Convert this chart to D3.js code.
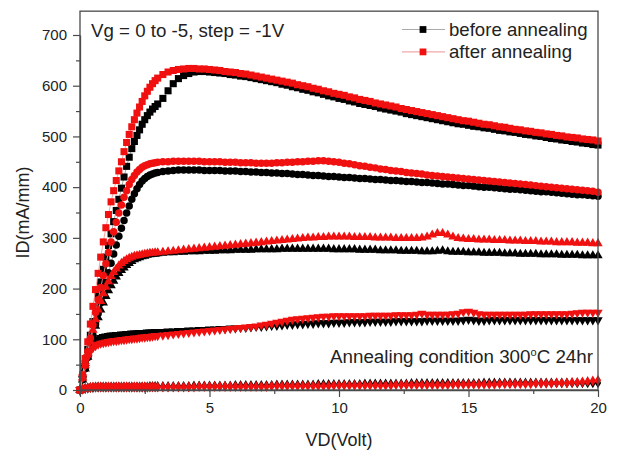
<!DOCTYPE html>
<html><head><meta charset="utf-8">
<script src="https://cdn.jsdelivr.net/npm/d3@7"></script>
<style>
body{margin:0;background:#fff}
svg{display:block}
text{font-family:"Liberation Sans",Arial,Helvetica,sans-serif;fill:#222}
</style>
</head><body>
<svg id="c" width="620" height="452"></svg>
<script>
// ---------------- DATA ----------------
const VD = [0,0.1,0.2,0.3,0.4,0.5,0.6,0.7,0.8,0.9,1,1.1,1.2,1.3,1.4,1.5,1.6,1.7,1.8,1.9,2,2.1,2.2,2.3,2.4,2.5,2.6,2.7,2.8,2.9,3,
3.2,3.4,3.6,3.8,4,4.2,4.4,4.6,4.8,5,
5.2,5.4,5.6,5.8,6,6.2,6.4,6.6,6.8,7,
7.2,7.4,7.6,7.8,8,8.2,8.4,8.6,8.8,9,
9.2,9.4,9.6,9.8,10,10.2,10.4,10.6,10.8,11,
11.2,11.4,11.6,11.8,12,12.2,12.4,12.6,12.8,13,
13.2,13.4,13.6,13.8,14,14.2,14.4,14.6,14.8,15,
15.2,15.4,15.6,15.8,16,16.2,16.4,16.6,16.8,17,
17.2,17.4,17.6,17.8,18,18.2,18.4,18.6,18.8,19,
19.2,19.4,19.6,19.8,20];

const gateVoltages = ["0","-1","-2","-3","-4"];
const conditions = ["before annealing","after annealing"];

// Vg = 0 V (squares)
const before_Vg0 = [0,25,52,80,108,135,162,188,213,238,262,285,308,332,354,376,398,420,441,459,476,490,502,513,524,533,541,548,554,559,564,
575,590,604,614,620,624,627,628,628,627,
626,625,624,622,621,619,618,616,614,612,
610,608,606,603,601,598,596,593,591,588,
586,583,580,578,575,573,570,568,565,563,
561,559,556,554,552,550,548,545,543,541,
539,537,535,533,531,529,527,525,524,522,
520,519,517,516,514,512,511,509,508,506,
504,503,501,500,498,496,495,493,492,490,
489,487,486,484,483];
const after_Vg0 = [0,30,62,95,130,165,198,230,262,292,320,346,371,393,413,432,450,470,488,504,519,533,546,558,569,580,589,597,604,610,615,
622,627,630,632,633,634,634,633,633,632,
631,630,628,627,626,624,623,621,619,617,
615,613,611,609,607,605,602,600,598,595,
593,590,588,585,583,581,578,576,573,571,
569,566,564,562,560,558,555,553,551,549,
547,545,543,541,539,537,535,533,531,530,
528,526,524,523,521,519,518,516,514,513,
511,510,508,507,505,504,502,501,499,498,
497,495,494,493,491];

// Vg = -1 V (circles)
const before_Vg1 = [0,20,42,64,86,108,130,151,172,192,212,231,250,268,286,303,319,334,349,363,376,387,397,405,412,417,421,424,426,428,429,
431,432,433,434,434,434,434,434,433,433,
433,433,432,432,432,431,431,430,430,429,
429,428,428,427,427,426,425,425,424,423,
423,422,421,421,420,419,419,418,417,417,
416,415,415,414,413,413,412,411,411,410,
409,409,408,407,406,406,405,404,403,403,
402,401,400,400,399,398,397,396,396,395,
394,393,392,391,391,390,389,388,387,386,
385,385,384,383,382];
const after_Vg1 = [0,24,50,76,102,128,153,178,202,226,249,271,292,312,331,349,365,380,393,405,415,423,430,435,439,442,444,446,447,448,449,
450,450,451,451,451,451,451,451,450,450,
450,450,449,449,449,448,448,448,447,447,
447,447,448,448,449,449,450,450,451,451,
452,452,451,450,449,447,446,444,442,441,
439,438,436,435,433,432,431,429,428,427,
426,424,423,422,421,420,419,418,417,416,
415,414,413,412,411,410,409,408,407,406,
405,404,403,402,401,400,399,398,397,396,
395,394,393,392,390];

// Vg = -2 V (up triangles)
const before_Vg2 = [0,20,42,65,87,107,126,143,158,172,185,196,206,215,223,230,236,241,246,250,254,257,259,261,263,264,266,267,268,268,269,
270,271,271,272,272,273,273,273,274,274,
274,275,275,275,276,276,276,276,277,277,
277,277,277,278,278,278,278,278,278,278,
278,278,278,277,277,277,277,277,276,276,
276,276,275,275,275,275,274,274,274,274,
273,273,273,274,275,273,272,272,272,271,
271,271,270,270,270,270,269,269,269,268,
268,268,268,267,267,267,267,266,266,266,
266,265,265,265,265];
const after_Vg2 = [0,24,48,72,96,118,139,158,175,190,203,214,224,232,239,245,250,254,257,260,262,264,265,266,267,268,269,270,270,271,271,
272,273,274,275,276,277,278,279,280,281,
282,283,284,285,286,287,288,289,290,291,
292,293,294,295,296,297,298,299,300,300,
301,301,302,302,302,302,302,301,301,301,
301,300,300,300,300,299,299,299,299,299,
300,302,306,309,309,306,302,299,298,297,
297,296,296,296,295,295,295,294,294,294,
293,293,293,292,292,292,291,291,291,291,
290,290,290,289,289];

// Vg = -3 V (down triangles)
const before_Vg3 = [0,22,44,63,78,89,96,100,103,105,106,107,108,108,109,109,110,110,111,111,112,112,112,113,113,113,114,114,114,115,115,
115,116,116,117,117,118,118,119,119,120,
120,121,121,122,122,123,123,124,125,125,
126,127,127,128,129,129,130,130,131,131,
132,132,132,133,133,133,134,134,134,134,
135,135,135,135,135,136,136,136,136,136,
136,137,137,137,137,137,137,137,138,139,
138,137,137,138,138,138,138,138,138,138,
138,138,138,138,138,138,138,138,138,138,
138,138,138,138,138];
const after_Vg3 = [0,25,48,65,76,83,87,90,92,93,94,95,96,97,97,98,99,99,100,101,101,102,102,103,104,104,105,105,106,107,107,
108,109,110,111,112,113,114,115,116,117,
118,119,120,121,122,123,124,125,126,128,
129,131,133,135,137,139,140,141,142,143,
144,145,145,146,146,146,146,146,146,146,
147,147,147,147,147,148,148,148,148,149,
151,149,149,149,149,149,150,151,154,155,
153,150,149,149,149,149,149,149,149,149,
149,150,150,150,150,150,150,150,150,151,
152,153,153,153,153];

// Vg = -4 V (diamonds)
const before_Vg4 = [0,2,3,4,5,5,6,6,6,6,6,6,6,6,6,6,6,6,6,6,6,6,6,6,6,6,6,7,7,7,7,
7,7,7,7,7,7,8,8,8,8,
8,8,8,8,9,9,9,9,9,9,
9,9,10,10,10,10,10,10,10,10,
11,11,11,11,11,11,11,11,11,12,
12,12,12,12,12,12,12,12,13,13,
13,13,13,13,13,13,13,13,13,13,
13,13,14,14,14,14,14,14,14,14,
14,14,14,14,14,14,14,14,14,14,
14,14,14,14,14];
const after_Vg4 = [0,2,3,4,5,6,6,6,6,6,6,6,6,6,6,6,6,6,6,6,6,6,6,6,6,6,6,6,6,6,6,
6,6,6,6,6,6,6,7,7,7,
7,7,7,7,7,7,7,7,7,7,
7,8,8,8,8,8,8,8,8,8,
8,8,8,9,9,9,9,9,9,9,
9,9,9,9,9,10,10,10,10,10,
10,10,10,10,10,10,11,11,11,11,
11,11,11,11,11,12,12,12,12,12,
12,12,13,13,13,13,14,14,14,15,
15,16,17,18,19];

const yTickValues = [0,100,200,300,400,500,600,700];
const yMinorValues = [50,150,250,350,450,550,650];
const xTickValues = [0,5,10,15,20];
const xMinorValues = [2.5,7.5,12.5,17.5];

// ---------------- CHART ----------------
const series = [
  {vg:"0", cond:0, vals:before_Vg0, sym:"square"},
  {vg:"-1",cond:0, vals:before_Vg1, sym:"circle"},
  {vg:"-2",cond:0, vals:before_Vg2, sym:"up"},
  {vg:"-3",cond:0, vals:before_Vg3, sym:"down"},
  {vg:"-4",cond:0, vals:before_Vg4, sym:"diamond"},
  {vg:"0", cond:1, vals:after_Vg0, sym:"square"},
  {vg:"-1",cond:1, vals:after_Vg1, sym:"circle"},
  {vg:"-2",cond:1, vals:after_Vg2, sym:"up"},
  {vg:"-3",cond:1, vals:after_Vg3, sym:"down"},
  {vg:"-4",cond:1, vals:after_Vg4, sym:"diamond"}
];
const markColor = ["#000000","#f01010"];
const lineColor = ["#9a9a9a","#f29a9a"];

const svg = d3.select("#c");
const x = d3.scaleLinear().domain([0,20]).range([80,598]);
const y = d3.scaleLinear().domain([0,700]).range([390,35]);
const yTopVal = 747;

function symPath(kind){
  if(kind==="square") return d3.symbol(d3.symbolSquare, 50)();
  if(kind==="circle") return d3.symbol(d3.symbolCircle, 44)();
  if(kind==="diamond") return d3.symbol(d3.symbolDiamond, 34)();
  return d3.symbol(d3.symbolTriangle, 38)();
}

const plot = svg.append("g");
const line = d3.line().x(d=>x(d[0])).y(d=>y(d[1]));

[0,1].forEach(c=>{
  const ss = series.filter(s=>s.cond===c);
  ss.forEach(s=>{
    const pts = VD.map((v,i)=>[v,s.vals[i]]);
    plot.append("path").attr("d",line(pts)).attr("fill","none")
      .attr("stroke",lineColor[c]).attr("stroke-width",0.9);
  });
  ss.forEach(s=>{
    const pts = VD.map((v,i)=>[v,s.vals[i]]);
    const d = symPath(s.sym);
    plot.append("g").selectAll("path").data(pts).join("path")
      .attr("d",d)
      .attr("transform",p=>`translate(${x(p[0])},${y(p[1])})`+(s.sym==="down"?" rotate(180)":""))
      .attr("fill",markColor[c]);
  });
});

// frame
const axCol = "#4a4a4a";
svg.append("rect").attr("x",x(0)).attr("y",y(yTopVal))
  .attr("width",x(20)-x(0)).attr("height",y(0)-y(yTopVal))
  .attr("fill","none").attr("stroke",axCol).attr("stroke-width",1.3);

// axes
function styleAxis(g){
  g.selectAll(".domain").attr("stroke",axCol).attr("stroke-width",1.3);
  g.selectAll(".tick line").attr("stroke",axCol).attr("stroke-width",1.2);
  g.selectAll(".tick text").attr("fill","#333").style("font-size","15px")
    .style("font-family",'"Liberation Sans",Arial,sans-serif');
}
const yAxis = svg.append("g").attr("transform",`translate(${x(0)},0)`)
  .call(d3.axisLeft(y).tickValues(yTickValues).tickSize(7).tickPadding(6).tickSizeOuter(0));
styleAxis(yAxis);
const yMinor = svg.append("g").attr("transform",`translate(${x(0)},0)`)
  .call(d3.axisLeft(y).tickValues(yMinorValues).tickSize(4).tickFormat("").tickSizeOuter(0));
yMinor.select(".domain").remove(); styleAxis(yMinor);

const xAxis = svg.append("g").attr("transform",`translate(0,${y(0)})`)
  .call(d3.axisBottom(x).tickValues(xTickValues).tickSize(7).tickPadding(5).tickSizeOuter(0));
styleAxis(xAxis);
const xMinor = svg.append("g").attr("transform",`translate(0,${y(0)})`)
  .call(d3.axisBottom(x).tickValues(xMinorValues).tickSize(4).tickFormat("").tickSizeOuter(0));
xMinor.select(".domain").remove(); styleAxis(xMinor);

// axis titles
svg.append("text").attr("x",(x(0)+x(20))/2).attr("y",446).attr("text-anchor","middle")
  .style("font-size","18px").text("VD(Volt)");
svg.append("text").attr("transform",`translate(29,${(y(0)+y(yTopVal))/2+12}) rotate(-90)`)
  .attr("text-anchor","middle").style("font-size","18px").text("ID(mA/mm)");

// annotations
svg.append("text").attr("x",91).attr("y",37).style("font-size","18.7px")
  .text("Vg = 0 to -5, step = -1V");
const ann = svg.append("text").attr("x",593).attr("y",363).attr("text-anchor","end").style("font-size","18.8px");
ann.append("tspan").text("Annealing condition 300");
ann.append("tspan").attr("dy",-7).style("font-size","11px").text("o");
ann.append("tspan").attr("dy",7).text("C 24hr");

// legend
conditions.forEach((name,c)=>{
  const ly = 29.5 + c*22.4;
  svg.append("line").attr("x1",402).attr("x2",445).attr("y1",ly).attr("y2",ly)
    .attr("stroke",c===0?"#aaaaaa":"#f0a8a8").attr("stroke-width",1.2);
  svg.append("path").attr("d",d3.symbol(d3.symbolSquare, 46)()).attr("transform",`translate(423,${ly})`)
    .attr("fill",markColor[c]);
  svg.append("text").attr("x",449).attr("y",ly+6.5).style("font-size","18.6px").text(name);
});
</script>
</body></html>
